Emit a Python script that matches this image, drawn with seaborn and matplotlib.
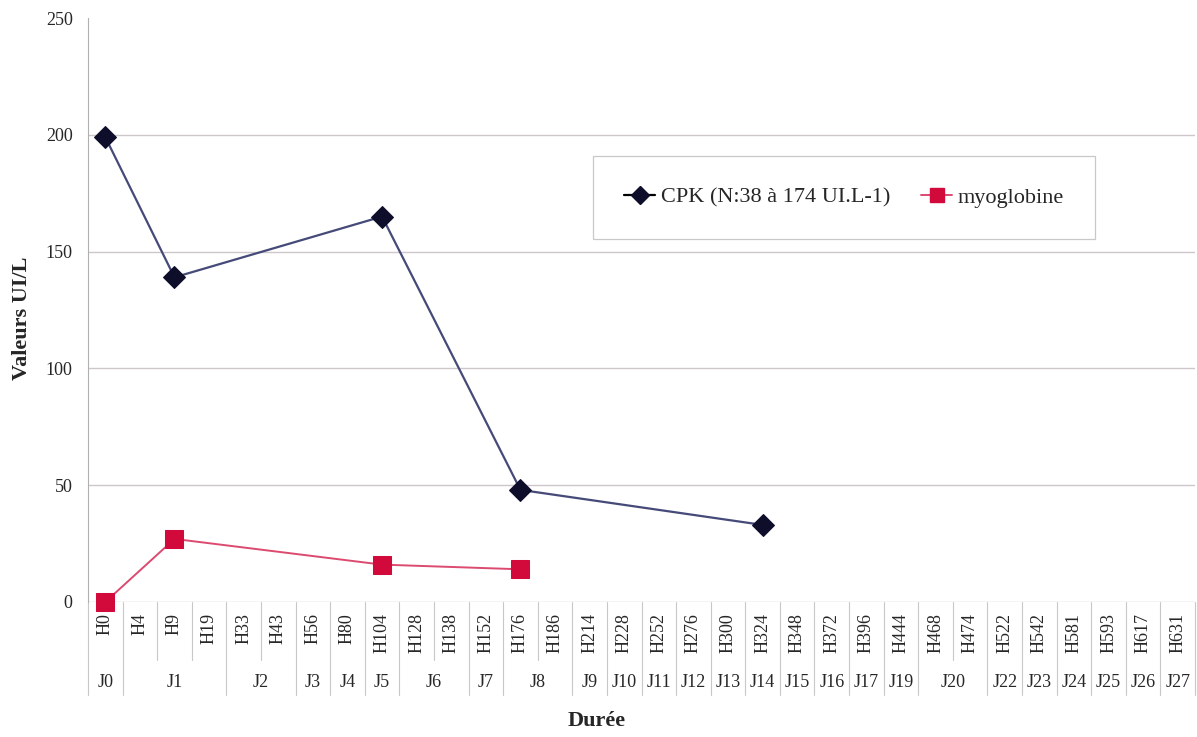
import numpy as np
import pandas as pd
import matplotlib
matplotlib.use("Agg")
import matplotlib.pyplot as plt
import matplotlib.transforms as mtransforms
import seaborn as sns

# categories (hours) and their day groups
heures = ["H0", "H4", "H9", "H19", "H33", "H43", "H56", "H80", "H104", "H128",
          "H138", "H152", "H176", "H186", "H214", "H228", "H252", "H276", "H300",
          "H324", "H348", "H372", "H396", "H444", "H468", "H474", "H522", "H542",
          "H581", "H593", "H617", "H631"]
jours = ["J0", "J1", "J2", "J3", "J4", "J5", "J6", "J7", "J8", "J9", "J10", "J11",
         "J12", "J13", "J14", "J15", "J16", "J17", "J19", "J20", "J22", "J23",
         "J24", "J25", "J26", "J27"]
jours_n = [1, 3, 2, 1, 1, 1, 2, 1, 2, 1, 1, 1, 1, 1, 1, 1, 1, 1, 1, 2, 1, 1, 1, 1, 1, 1]

# measured values
cpk_h = ["H0", "H9", "H104", "H176", "H324"]
cpk_val = [199, 139, 165, 48, 33]
myo_h = ["H0", "H9", "H104", "H176"]
myo_val = [0, 27, 16, 14]

lab_cpk = "CPK (N:38 à 174 UI.L-1)"
lab_myo = "myoglobine"

df_cpk = pd.DataFrame({"pos": [heures.index(h) for h in cpk_h], "val": cpk_val})
df_myo = pd.DataFrame({"pos": [heures.index(h) for h in myo_h], "val": myo_val})

sns.set_style("white")
plt.rcParams["font.family"] = ["Liberation Serif", "DejaVu Serif"]

fig = plt.figure(figsize=(11.97, 7.37), dpi=100)
ax = fig.add_axes([88 / 1197, 135 / 737, 1107 / 1197, 584 / 737])

sns.lineplot(data=df_cpk, x="pos", y="val", ax=ax, color="#454a78", lw=1.6,
             marker="D", markersize=11, markerfacecolor="#0e0e2a",
             markeredgecolor="#0e0e2a", label=lab_cpk, legend=False,
             clip_on=False, zorder=4)
sns.lineplot(data=df_myo, x="pos", y="val", ax=ax, color="#dc4a70", lw=1.4,
             marker="s", markersize=13, markerfacecolor="#d20a3c",
             markeredgecolor="#d20a3c", label=lab_myo, legend=False,
             clip_on=False, zorder=4)

ax.set_xlim(-0.5, len(heures) - 0.5)
ax.set_ylim(0, 250)
ax.set_yticks(np.arange(0, 251, 50))
ax.yaxis.grid(True, color="#cdc6cb", lw=1.0)
ax.set_axisbelow(True)
# no gridline at the top value
ax.yaxis.get_gridlines()[-1].set_visible(False)
for s in ["top", "right", "bottom"]:
    ax.spines[s].set_visible(False)
ax.spines["left"].set_color("#b0b0b0")
ax.spines["left"].set_linewidth(0.8)
ax.tick_params(axis="y", length=5, color="#999999", labelsize=13, pad=6)

ax.set_xticks(range(len(heures)))
ax.set_xticklabels(heures, rotation=90, fontsize=13)
ax.tick_params(axis="x", length=0, pad=8)
ax.set_xlabel("")
ax.set_ylabel("")

# separators and day labels under the axis
trans = mtransforms.blended_transform_factory(ax.transData, ax.transAxes)
y_h = -0.10
y_j = -0.16
for i in range(len(heures) + 1):
    ax.plot([i - 0.5, i - 0.5], [0, y_h], transform=trans, color="#c8c8c8",
            lw=0.8, clip_on=False)
start = 0
for j, n in zip(jours, jours_n):
    ax.plot([start - 0.5, start - 0.5], [y_h, y_j], transform=trans,
            color="#c8c8c8", lw=0.8, clip_on=False)
    ax.text(start - 0.5 + n / 2, -0.137, j, transform=trans, ha="center",
            va="center", fontsize=13)
    start += n
ax.plot([start - 0.5, start - 0.5], [y_h, y_j], transform=trans,
        color="#c8c8c8", lw=0.8, clip_on=False)

fig.text(22 / 1197, 1 - 318 / 737, "Valeurs UI/L", rotation=90, ha="center",
         va="center", fontsize=16, fontweight="bold")
fig.text(597 / 1197, 1 - 721 / 737, "Durée", ha="center", va="center",
         fontsize=16, fontweight="bold")

h1 = plt.Line2D([], [], color="black", lw=1.6, marker="D", markersize=9,
                markerfacecolor="#0e0e2a", markeredgecolor="#0e0e2a")
h2 = plt.Line2D([], [], color="#dc4a70", lw=1.4, marker="s", markersize=10,
                markerfacecolor="#d20a3c", markeredgecolor="#d20a3c")
leg = ax.legend([h1, h2], [lab_cpk, lab_myo], loc="center",
                bbox_to_anchor=(0.683, 0.6926), ncol=2, fontsize=16,
                frameon=True, fancybox=False, edgecolor="#bbbbbb",
                borderpad=1.4, borderaxespad=0, handlelength=1.4,
                handletextpad=0.25, columnspacing=1.4)
leg.get_frame().set_linewidth(0.9)

fig.savefig("out.png", dpi=100)
